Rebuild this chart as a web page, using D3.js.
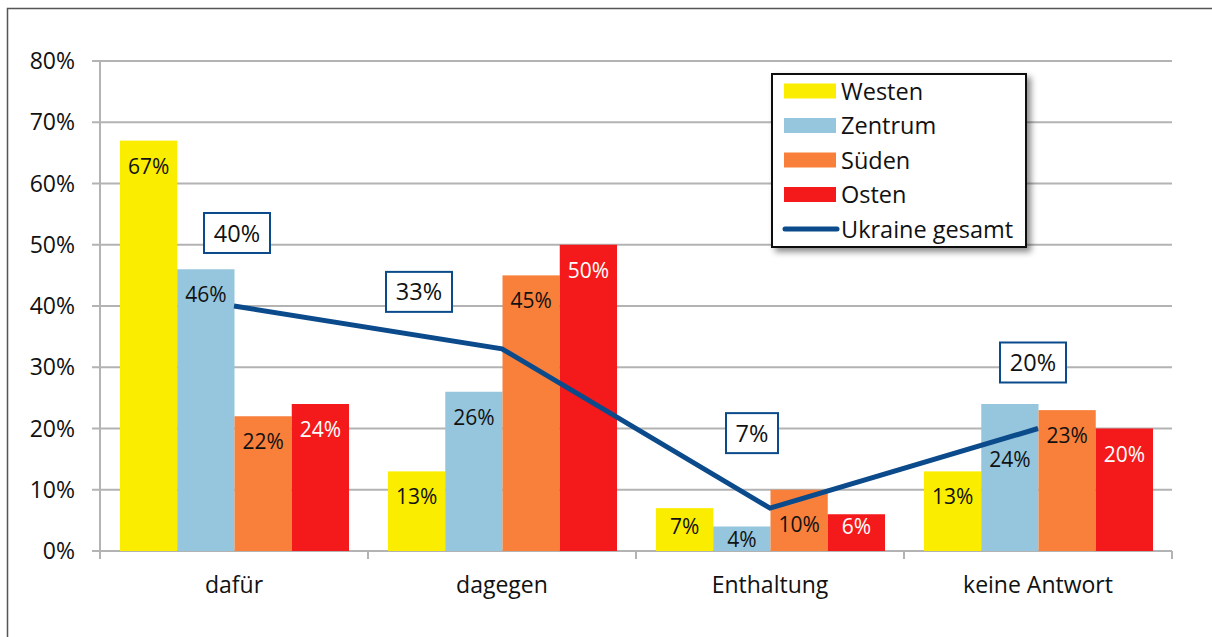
<!DOCTYPE html>
<html>
<head>
<meta charset="utf-8">
<script src="https://cdn.jsdelivr.net/npm/d3@7"></script>
<style>
  body { margin: 0; background: #fff; }
  svg text { font-family: "Open Sans", "Noto Sans", sans-serif; }
</style>
</head>
<body>
<script>
    // Data
    const categories = ['dafür', 'dagegen', 'Enthaltung', 'keine Antwort'];
    const regions = ['Westen', 'Zentrum', 'Süden', 'Osten'];
    const westen = [67, 13, 7, 13];
    const zentrum = [46, 26, 4, 24];
    const sueden = [22, 45, 10, 23];
    const osten = [24, 50, 6, 20];
    const gesamt = [40, 33, 7, 20];
    const yTicks = [0, 10, 20, 30, 40, 50, 60, 70, 80];

    const seriesValues = [westen, zentrum, sueden, osten];
    const colors = ['#fbed00', '#95c6dd', '#f8803b', '#f4191b'];
    const labelColors = ['#111', '#111', '#111', '#fff'];
    const lineColor = '#0b4a8b';

    // label placement tweaks (px below bar top), like Excel moved them
    const labelNudge = { '2-0': 19, '2-1': 13, '2-2': 35, '2-3': 13, '3-1': 56 };
    // line label box offsets relative to the point
    const boxOffset = [[3, -73], [-83, -57], [-18, -75], [-5, -66]];

    const width = 1212, height = 637;
    const svg = d3.select('body')
        .append('svg')
        .attr('width', width)
        .attr('height', height);

    // outer frame (top + left only visible)
    svg.append('path')
        .attr('d', 'M7.5,' + height + 'V8.5H' + width)
        .attr('fill', 'none')
        .attr('stroke', '#555')
        .attr('stroke-width', 1.5);

    const x = d3.scaleBand().domain(categories).range([100, 1172]);
    const y = d3.scaleLinear().domain([0, 80]).range([551, 61]);
    const xInner = d3.scaleBand().domain(d3.range(4))
        .range([20, x.bandwidth() - 19]);

    // gridlines + y axis
    const gy = svg.append('g');
    gy.selectAll('line')
        .data(yTicks)
        .enter()
        .append('line')
        .attr('x1', 92).attr('x2', 1172)
        .attr('y1', d => y(d)).attr('y2', d => y(d))
        .attr('stroke', '#b3b3b3')
        .attr('stroke-width', 2);
    gy.selectAll('text')
        .data(yTicks)
        .enter()
        .append('text')
        .attr('x', 75)
        .attr('y', d => y(d) + 8)
        .attr('text-anchor', 'end')
        .attr('font-size', 23)
        .attr('fill', '#111')
        .text(d => d + '%');

    svg.append('line')
        .attr('x1', 100).attr('x2', 100)
        .attr('y1', y(80)).attr('y2', 559)
        .attr('stroke', '#b3b3b3').attr('stroke-width', 2);

    // x tick marks at category boundaries
    svg.selectAll('.xtick')
        .data(categories)
        .enter()
        .append('line')
        .attr('class', 'xtick')
        .attr('x1', d => x(d) + x.bandwidth())
        .attr('x2', d => x(d) + x.bandwidth())
        .attr('y1', 551).attr('y2', 559)
        .attr('stroke', '#b3b3b3').attr('stroke-width', 2);

    svg.selectAll('.cat')
        .data(categories)
        .enter()
        .append('text')
        .attr('class', 'cat')
        .attr('x', d => x(d) + x.bandwidth() / 2)
        .attr('y', 593)
        .attr('text-anchor', 'middle')
        .attr('font-size', 23)
        .attr('fill', '#111')
        .text(d => d);

    // bars
    const bars = [];
    categories.forEach((c, ci) => {
        seriesValues.forEach((s, si) => {
            bars.push({ c, ci, si, v: s[ci] });
        });
    });

    svg.selectAll('.bar')
        .data(bars)
        .enter()
        .append('rect')
        .attr('class', 'bar')
        .attr('x', d => x(d.c) + xInner(d.si))
        .attr('width', xInner.bandwidth())
        .attr('y', d => y(d.v))
        .attr('height', d => y(0) - y(d.v))
        .attr('fill', d => colors[d.si]);

    // line for Ukraine gesamt
    const pts = categories.map((c, i) => [x(c) + x.bandwidth() / 2, y(gesamt[i])]);
    svg.append('path')
        .attr('d', d3.line()(pts))
        .attr('fill', 'none')
        .attr('stroke', lineColor)
        .attr('stroke-width', 5)
        .attr('stroke-linejoin', 'miter');

    // bar labels
    svg.selectAll('.blab')
        .data(bars)
        .enter()
        .append('text')
        .attr('class', 'blab')
        .attr('x', d => x(d.c) + xInner(d.si) + xInner.bandwidth() / 2)
        .attr('y', d => {
            const n = labelNudge[d.ci + '-' + d.si];
            return y(d.v) + (n !== undefined ? n : 26) + 7;
        })
        .attr('text-anchor', 'middle')
        .attr('font-size', 21)
        .attr('fill', d => labelColors[d.si])
        .text(d => d.v + '%');

    // line labels in boxes
    const boxes = svg.selectAll('.lbox')
        .data(gesamt)
        .enter()
        .append('g')
        .attr('class', 'lbox')
        .attr('transform', (d, i) => `translate(${pts[i][0] + boxOffset[i][0]},${pts[i][1] + boxOffset[i][1]})`);
    boxes.append('rect')
        .attr('x', d => d < 10 ? -26 : -33)
        .attr('width', d => d < 10 ? 52 : 66)
        .attr('y', -20)
        .attr('height', 40)
        .attr('fill', '#fff')
        .attr('stroke', lineColor)
        .attr('stroke-width', 2);
    boxes.append('text')
        .attr('text-anchor', 'middle')
        .attr('y', 8.5)
        .attr('font-size', 23.5)
        .attr('fill', '#111')
        .text(d => d + '%');

    // legend
    const defs = svg.append('defs');
    const f = defs.append('filter').attr('id', 'shadow')
        .attr('x', '-10%').attr('y', '-10%').attr('width', '130%').attr('height', '130%');
    f.append('feDropShadow')
        .attr('dx', 4).attr('dy', 4).attr('stdDeviation', 3)
        .attr('flood-color', '#000').attr('flood-opacity', 0.45);

    const legend = svg.append('g').attr('transform', 'translate(772,74)');
    legend.append('rect')
        .attr('width', 254).attr('height', 173)
        .attr('fill', '#fff')
        .attr('stroke', '#111').attr('stroke-width', 2)
        .attr('filter', 'url(#shadow)');

    const legendItems = regions.concat(['Ukraine gesamt']);
    const li = legend.selectAll('.li')
        .data(legendItems)
        .enter()
        .append('g')
        .attr('transform', (d, i) => `translate(0,${17 + i * 34.5})`);
    li.filter((d, i) => i < 4)
        .append('rect')
        .attr('x', 12).attr('y', -7.5)
        .attr('width', 52).attr('height', 15)
        .attr('fill', (d, i) => colors[i]);
    li.filter((d, i) => i === 4)
        .append('line')
        .attr('x1', 13).attr('x2', 65)
        .attr('stroke', lineColor).attr('stroke-width', 5)
        .attr('stroke-linecap', 'round');
    li.append('text')
        .attr('x', 69).attr('y', 8.5)
        .attr('font-size', 23.5)
        .attr('fill', '#111')
        .text(d => d);
</script>
</body>
</html>
